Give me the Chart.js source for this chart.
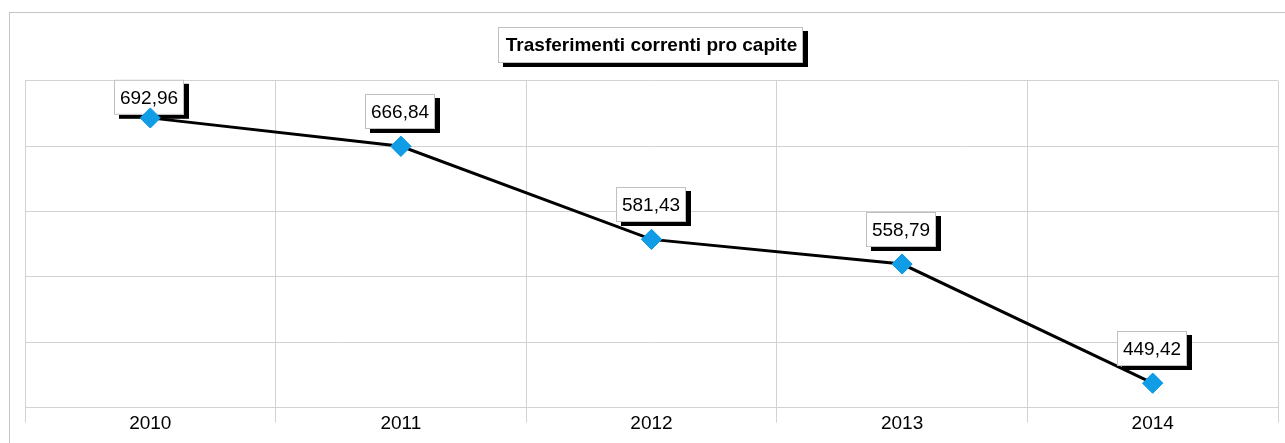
<!DOCTYPE html>
<html lang="it">
<head>
<meta charset="utf-8">
<title>Trasferimenti correnti pro capite</title>
<script src="https://cdn.jsdelivr.net/npm/chart.js@4/dist/chart.umd.min.js"></script>
<style>
    html, body { margin: 0; padding: 0; background: #fff; overflow: hidden; }
    .cornice {
        position: absolute; left: 9px; top: 12px; width: 1300px; height: 460px;
        border-left: 1px solid #c4c4c4; border-top: 1px solid #c4c4c4;
    }
    .contenitore { position: absolute; left: 0; top: 0; width: 1285px; height: 443px; }
</style>
</head>
<body>
<div class="cornice"></div>
<div class="contenitore"><canvas id="graficoTrasferimenti" width="1285" height="443"></canvas></div>
<script>
// --- Dati ---
const anni = ["2010", "2011", "2012", "2013", "2014"];
const trasferimenti = [692.96, 666.84, 581.43, 558.79, 449.42];
const asseYMin = 427;
const asseYMax = 727;
const asseYPasso = 60;

const FONT = "'Liberation Sans', Arial, sans-serif";
const GRIGIO = "#d2d2d2";
const titoloPadding = { top: 34, bottom: 24 };

// formato italiano: virgola decimale
const formatta = (v) => v.toFixed(2).replace(".", ",");

// riquadro con ombra nera (titolo ed etichette)
function riquadro(ctx, x, y, w, h) {
    ctx.fillStyle = "#000";
    ctx.fillRect(x + 5, y + 4, w, h);
    ctx.fillStyle = "#fff";
    ctx.fillRect(x, y, w, h);
    ctx.strokeStyle = "#c0c0c0";
    ctx.lineWidth = 1;
    ctx.strokeRect(x + 0.5, y + 0.5, w - 1, h - 1);
}

// cornice del titolo, disegnata prima del testo
const boxTitolo = {
    id: "boxTitolo",
    beforeDraw(chart) {
        const tb = chart.titleBlock;
        if (!tb) return;
        const ctx = chart.ctx;
        ctx.save();
        ctx.font = "bold 19px " + FONT;
        const w = ctx.measureText(chart.options.plugins.title.text).width + 14;
        const cx = (tb.left + tb.right) / 2 - 1;
        const cy = tb.top + titoloPadding.top + 11.4;
        riquadro(ctx, Math.round(cx - w / 2), Math.round(cy - 18), Math.round(w), 36);
        ctx.restore();
    },
};

// etichette dei valori sopra ogni punto
const etichette = {
    id: "etichette",
    afterDatasetsDraw(chart) {
        const ctx = chart.ctx;
        const area = chart.chartArea;
        const meta = chart.getDatasetMeta(0);
        ctx.save();
        ctx.font = "19px " + FONT;
        ctx.textAlign = "center";
        ctx.textBaseline = "middle";
        meta.data.forEach((punto, i) => {
            const testo = formatta(trasferimenti[i]);
            const w = Math.round(ctx.measureText(testo).width + 12);
            const h = 35;
            const x = Math.round(punto.x - 1 - w / 2);
            const y = Math.max(Math.round(punto.y - 17 - h), area.top - 1);
            riquadro(ctx, x, y, w, h);
            ctx.fillStyle = "#000";
            ctx.fillText(testo, x + w / 2, y + h / 2 + 1);
        });
        // i marcatori restano sopra le etichette
        meta.data.forEach((punto) => punto.draw(ctx, area));
        ctx.restore();
    },
};

const ctx = document.getElementById("graficoTrasferimenti");

new Chart(ctx, {
    type: "line",
    data: {
        labels: anni,
        datasets: [
            {
                label: "Trasferimenti correnti pro capite",
                data: trasferimenti,
                borderColor: "#000",
                borderWidth: 3,
                tension: 0,
                fill: false,
                pointStyle: "rectRot",
                pointRadius: 10,
                pointHoverRadius: 10,
                pointBackgroundColor: "#109de6",
                pointBorderColor: "#109de6",
                pointBorderWidth: 1,
            },
        ],
    },
    options: {
        responsive: false,
        animation: false,
        events: [],
        layout: {
            autoPadding: false,
            padding: { left: 25, right: 7, top: 0, bottom: 8 },
        },
        scales: {
            x: {
                offset: true,
                grid: {
                    offset: true,
                    color: GRIGIO,
                    lineWidth: 1,
                    drawTicks: true,
                    tickLength: 15,
                },
                border: { display: true, color: GRIGIO },
                ticks: {
                    color: "#000",
                    padding: -10,
                    font: { family: FONT, size: 19 },
                },
                // titolo vuoto: solo spazio, così le etichette non vengono tagliate
                title: {
                    display: true,
                    text: "",
                    padding: 0,
                    font: { size: 8 },
                },
            },
            y: {
                min: asseYMin,
                max: asseYMax,
                ticks: { display: false, stepSize: asseYPasso },
                grid: { color: GRIGIO, lineWidth: 1, drawTicks: false },
                border: { display: false },
            },
        },
        plugins: {
            legend: { display: false },
            tooltip: { enabled: false },
            title: {
                display: true,
                text: "Trasferimenti correnti pro capite",
                color: "#000",
                padding: titoloPadding,
                font: { family: FONT, size: 19, weight: "bold" },
            },
        },
    },
    plugins: [boxTitolo, etichette],
});
</script>
</body>
</html>
